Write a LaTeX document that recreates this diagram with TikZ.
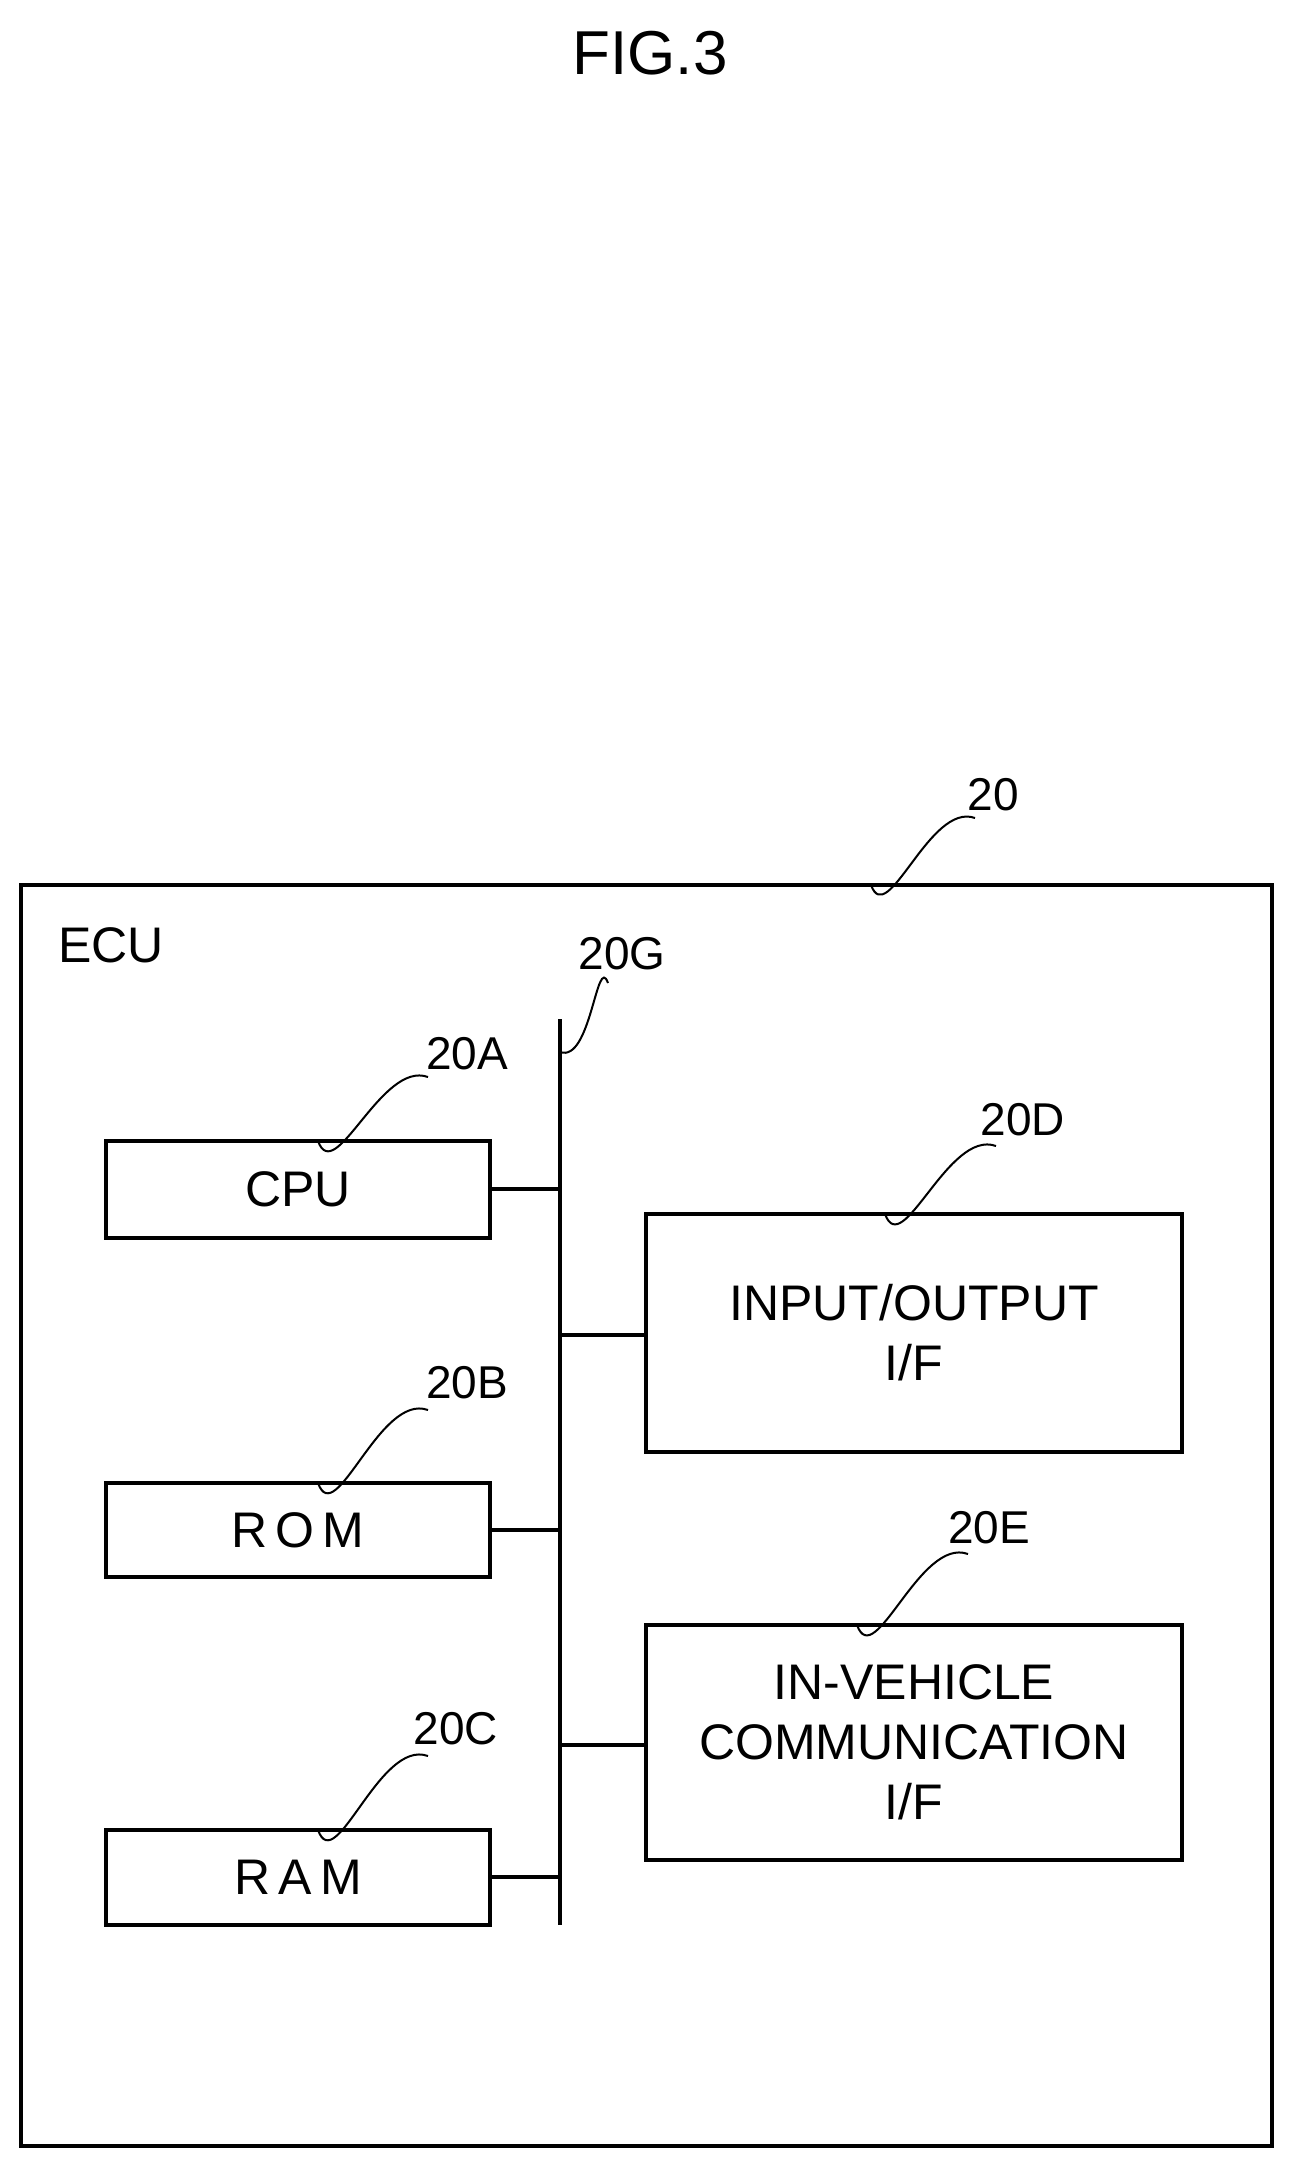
\documentclass[tikz,border=0pt]{standalone}
\usepackage{fontspec}
\setmainfont{Liberation Sans}

\tikzset{
  block/.style={draw, line width=3.5pt, inner sep=0pt},
  bustap/.style={line width=3.5pt},
  leader/.style={line width=2pt},
  refno/.style={font=\fontsize{46}{50}\selectfont, inner sep=2pt},
  boxtext/.style={font=\fontsize{50}{60}\selectfont, align=center}
}

\begin{document}
\begin{tikzpicture}[x=1pt,y=1pt,yscale=-1]
\useasboundingbox (0,0) rectangle (1293,2161);

% Title
\node[font=\fontsize{62}{70}\selectfont] (fig) at (650,53) {FIG.3};

% Outer ECU frame
\draw[line width=4pt] (21,885) rectangle (1272,2146);
\node[boxtext, anchor=west] (ecu) at (55,945) {ECU};

% Bus
\coordinate (bustop) at (560,1019);
\coordinate (busbot) at (560,1925);
\draw[line width=4pt] (bustop) -- (busbot);

% Blocks, left
\draw[block] (106,1141) rectangle (490,1238);
\node[boxtext] (cpu) at (298,1189.5) {CPU};
\draw[block] (106,1483) rectangle (490,1577);
\node[boxtext] (rom) at (298,1530) {R\,O\,M};
\draw[block] (106,1830) rectangle (490,1925);
\node[boxtext] (ram) at (298,1877.5) {R\,A\,M};

% Blocks, right
\draw[block] (646,1214) rectangle (1182,1452);
\node[boxtext] (io) at (914,1333) {INPUT/OUTPUT\\I/F};
\draw[block] (646,1625) rectangle (1182,1860);
\node[boxtext] (ivc) at (914,1742) {IN-VEHICLE\\COMMUNICATION\\I/F};

% Taps to the bus
\draw[bustap] (490,1189) -- (560,1189);
\draw[bustap] (490,1530) -- (560,1530);
\draw[bustap] (490,1877) -- (560,1877);
\draw[bustap] (560,1335) -- (646,1335);
\draw[bustap] (560,1745) -- (646,1745);

% Reference numerals
\node[refno] (n20) at (993,795) {20};
\node[refno] (n20g) at (622,954) {20G};
\node[refno] (n20a) at (467,1054) {20A};
\node[refno] (n20b) at (467,1383) {20B};
\node[refno] (n20c) at (456,1729) {20C};
\node[refno] (n20d) at (1023,1120) {20D};
\node[refno] (n20e) at (989,1528) {20E};

% Leaders
\draw[leader] (871,885) to[out=70,in=200] (975,818);
\draw[leader] (560,1052) to[out=20,in=250] (608,983);
\draw[leader] (318,1141) to[out=70,in=200] (428,1077);
\draw[leader] (318,1483) to[out=70,in=200] (428,1410);
\draw[leader] (318,1830) to[out=70,in=200] (428,1756);
\draw[leader] (885,1214) to[out=70,in=200] (996,1146);
\draw[leader] (857,1625) to[out=70,in=200] (968,1554);

\end{tikzpicture}
\end{document}
